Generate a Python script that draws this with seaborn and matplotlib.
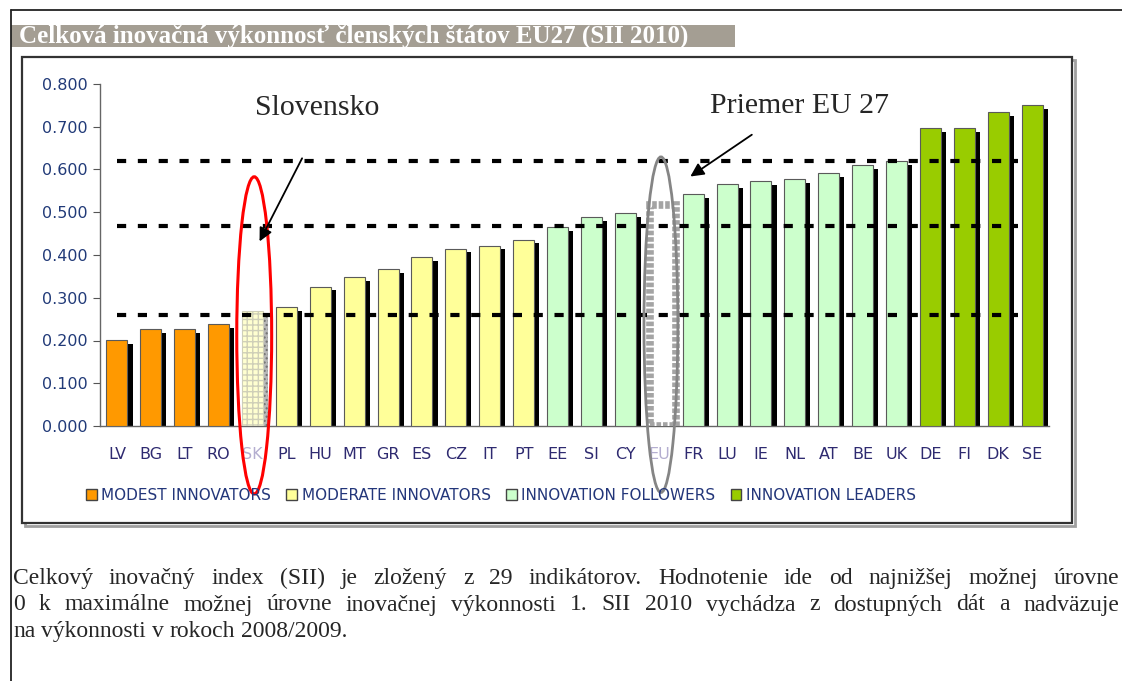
import numpy as np
import pandas as pd
import seaborn as sns
import matplotlib.pyplot as plt
from matplotlib.patches import Ellipse, Rectangle, Patch

# data
countries = ["LV", "BG", "LT", "RO", "SK", "PL", "HU", "MT", "GR", "ES", "CZ", "IT", "PT",
             "EE", "SI", "CY", "EU", "FR", "LU", "IE", "NL", "AT", "BE", "UK", "DE", "FI", "DK", "SE"]
sii = [0.201, 0.226, 0.227, 0.239, 0.268, 0.278, 0.326, 0.349, 0.367, 0.395, 0.415, 0.422, 0.436,
       0.466, 0.489, 0.498, 0.518, 0.543, 0.566, 0.572, 0.577, 0.591, 0.611, 0.619, 0.696, 0.696, 0.734, 0.750]
groups = (["modest"] * 4 + ["moderate"] * 9 + ["followers"] * 3 + ["eu"]
          + ["followers"] * 7 + ["leaders"] * 4)
group_names = ["MODEST INNOVATORS", "MODERATE INNOVATORS", "INNOVATION FOLLOWERS", "INNOVATION LEADERS"]
thresholds = [0.26, 0.468, 0.62]

title = "Celková inovačná výkonnosť členských štátov EU27 (SII 2010)"
paragraph = [
    "Celkový inovačný index (SII) je zložený z 29 indikátorov. Hodnotenie ide od najnižšej možnej úrovne",
    "0 k maximálne možnej úrovne inovačnej výkonnosti 1. SII 2010 vychádza z dostupných dát a nadväzuje",
    "na výkonnosti v rokoch 2008/2009.",
]

palette = {"modest": "#ff9900", "moderate": "#ffff99", "followers": "#ccffcc",
           "leaders": "#99cc00", "eu": "#ffffff"}

sns.set_style("white")
plt.rcParams["font.family"] = ["DejaVu Sans"]

df = pd.DataFrame({"country": countries, "sii": sii, "group": groups})

fig = plt.figure(figsize=(11.22, 6.81), dpi=100)

# page overlay in pixel coordinates
ax0 = fig.add_axes([0, 0, 1, 1], zorder=0)
ax0.set_xlim(0, 1122)
ax0.set_ylim(681, 0)
ax0.axis("off")
ax0.plot([11, 1122], [10, 10], color="#222222", lw=1.3)
ax0.plot([11, 11], [10, 681], color="#222222", lw=1.3)
ax0.add_patch(Rectangle((11, 25), 724, 22, color="#a49e93", lw=0))
ax0.text(19, 36.5, title, color="white", fontsize=18, fontweight="bold",
         family="Liberation Serif", va="center", ha="left")
ax0.add_patch(Rectangle((25, 60), 1050, 466, fill=False, ec="#a0a0a0", lw=2))
ax0.add_patch(Rectangle((22, 57), 1050, 466, facecolor="white", ec="#333333", lw=1.6))

# justified paragraph
renderer = fig.canvas.get_renderer()
para_size = 17
for li, line in enumerate(paragraph):
    words = line.split(" ")
    texts = [ax0.text(0, 584 + li * 26.5, w, fontsize=para_size, family="Liberation Serif",
                      va="baseline", ha="left") for w in words]
    widths = [t.get_window_extent(renderer).width for t in texts]
    if li < len(paragraph) - 1:
        gap = (1119 - 13 - sum(widths)) / (len(words) - 1)
    else:
        gap = para_size * 100 / 72 * 0.25
    x = 13
    for t, w in zip(texts, widths):
        t.set_x(x)
        x += w + gap

# main chart
ax = fig.add_axes([100 / 1122, 1 - 426 / 681, 949 / 1122, 342 / 681], zorder=1)
ax.set_facecolor("none")
sns.barplot(data=df, x="country", y="sii", hue="group", order=countries,
            hue_order=["modest", "moderate", "followers", "leaders", "eu"],
            palette=palette, saturation=1, dodge=False, width=0.62, errorbar=None,
            edgecolor="#5a5a5a", linewidth=0.8, legend=False, ax=ax, zorder=3)

for bar in list(ax.patches):
    h = bar.get_height()
    if not np.isfinite(h) or h == 0:
        continue
    k = int(round(bar.get_x() + bar.get_width() / 2))
    if countries[k] == "SK":
        bar.set_facecolor("#ffffd0")
        bar.set_hatch("+++")
        bar.set_edgecolor("#cfcfb8")
    elif countries[k] == "EU":
        bar.set_x(k - 0.28)
        bar.set_width(0.76)
        bar.set_edgecolor("#a4a4a4")
        bar.set_linewidth(5.5)
        bar.set_linestyle((0, (0.6, 0.25)))

# drop shadows
xs = np.arange(len(countries))
vals = np.array(sii)
plain = np.array([c not in ("SK", "EU") for c in countries])
ax.bar(xs[plain] + 0.15, vals[plain] - 0.009, width=0.62, color="black", lw=0, zorder=2)
sk = countries.index("SK")
ax.bar(xs[sk] + 0.15, vals[sk] - 0.009, width=0.62, color="#b8b8b8", hatch="....",
       edgecolor="#6f6f6f", lw=0, zorder=2)

ax.hlines(thresholds, 0, 26.6, colors="black", linestyles=(0, (2.2, 2.8)), linewidth=3, zorder=5)

ax.set_xlim(-0.5, len(countries) - 0.5)
ax.set_ylim(0, 0.8)
ax.set_yticks(np.arange(0, 0.81, 0.1))
ax.set_yticklabels([f"{v:.3f}" for v in np.arange(0, 0.81, 0.1)], fontsize=11.5, color="#213a78")
ax.set_xticks(xs)
ax.set_xticklabels(countries, fontsize=11.5, color="#2e2a70")
for lab in ax.get_xticklabels():
    if lab.get_text() in ("SK", "EU"):
        lab.set_color("#b4aed0")
ax.set_xticks(np.arange(-0.5, len(countries)), minor=True)
ax.tick_params(axis="x", which="major", length=0, pad=15)
ax.tick_params(axis="x", which="minor", length=4, color="#555555", direction="out")
ax.tick_params(axis="y", length=5, color="#555555", direction="out", pad=4, left=True)
ax.set_xlabel("")
ax.set_ylabel("")
sns.despine(ax=ax)
for s in ("left", "bottom"):
    ax.spines[s].set_color("#666666")
    ax.spines[s].set_linewidth(1)

# highlights and notes
ax.add_patch(Ellipse((4.05, 0.212), 1.03, 0.742, fill=False, ec="red", lw=2.2,
                     clip_on=False, zorder=6))
ax.add_patch(Ellipse((16.05, 0.237), 1.0, 0.785, fill=False, ec="#858585", lw=2,
                     clip_on=False, zorder=6))
ax.text(5.9, 0.744, "Slovensko", fontsize=21.5, family="Liberation Serif",
        ha="center", va="center", zorder=7)
ax.text(20.15, 0.749, "Priemer EU 27", fontsize=21.5, family="Liberation Serif",
        ha="center", va="center", zorder=7)
arrow = dict(arrowstyle="-|>", color="black", lw=1.3, mutation_scale=20)
ax.annotate("", xy=(4.17, 0.426), xytext=(5.5, 0.632), arrowprops=arrow, zorder=7)
ax.annotate("", xy=(16.85, 0.58), xytext=(18.8, 0.685), arrowprops=arrow, zorder=7)

handles = [Patch(facecolor=palette[g], edgecolor="#444444", lw=1)
           for g in ["modest", "moderate", "followers", "leaders"]]
fig.legend(handles, group_names, loc="center", bbox_to_anchor=(501 / 1122, 1 - 495 / 681),
           ncol=4, frameon=False, fontsize=11, labelcolor="#23367a",
           handlelength=0.7, handleheight=0.7, handletextpad=0.3, columnspacing=1.0)

fig.savefig("out.png", dpi=100)
